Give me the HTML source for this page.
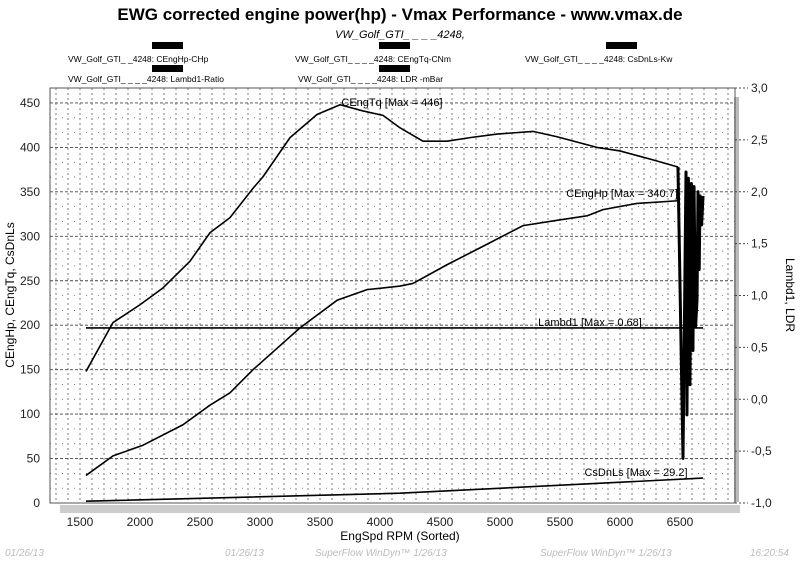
<!DOCTYPE html>
<html><head><meta charset="utf-8"><style>
body{margin:0;background:#fff;font-family:"Liberation Sans",sans-serif}
svg text{font-family:"Liberation Sans",sans-serif}
</style></head><body>
<svg id="c" width="800" height="560" xmlns="http://www.w3.org/2000/svg">
<text x="400" y="20" text-anchor="middle" font-size="17" font-weight="bold">EWG corrected engine power(hp) - Vmax Performance - www.vmax.de</text>
<text x="400" y="38" text-anchor="middle" font-size="11" font-style="italic">VW_Golf_GTI_       _  _  _4248,</text>
<g font-size="8.5">
<rect x="152" y="42" width="31" height="7" fill="#000"/>
<text x="68" y="62">VW_Golf_GTI_                  _4248: CEngHp-CHp</text>
<rect x="379" y="42" width="31" height="7" fill="#000"/>
<text x="295" y="62">VW_Golf_GTI_       _ _ _4248: CEngTq-CNm</text>
<rect x="606" y="42" width="31" height="7" fill="#000"/>
<text x="525" y="62">VW_Golf_GTI_       _ _ _4248: CsDnLs-Kw</text>
<rect x="152" y="65" width="31" height="7" fill="#000"/>
<text x="68" y="82">VW_Golf_GTI_       _ _ _4248: Lambd1-Ratio</text>
<rect x="379" y="65" width="31" height="7" fill="#000"/>
<text x="298" y="82">VW_Golf_GTI_       _ _ _4248: LDR  -mBar</text>
</g>
<rect x="60" y="505" width="680" height="8" fill="#ccc"/>
<rect x="734" y="97" width="5" height="405" fill="#bbb"/>
<g id="grid"></g>
<rect x="50" y="88" width="685" height="415" fill="none" stroke="#555" stroke-width="1"/>
<g id="ticks" font-size="12" fill="#222"></g>
<g id="series"></g>
<text x="392" y="106" text-anchor="middle" font-size="11">CEngTq [Max = 446]</text>
<text x="622" y="197" text-anchor="middle" font-size="11">CEngHp [Max = 340.7]</text>
<text x="590" y="326" text-anchor="middle" font-size="11">Lambd1 [Max = 0.68]</text>
<text x="636" y="476" text-anchor="middle" font-size="11">CsDnLs [Max = 29.2]</text>
<text x="400" y="540" text-anchor="middle" font-size="12">EngSpd RPM    (Sorted)</text>
<text transform="translate(14,295) rotate(-90)" text-anchor="middle" font-size="12">CEngHp, CEngTq, CsDnLs</text>
<text transform="translate(786,295) rotate(90)" text-anchor="middle" font-size="12">Lambd1, LDR</text>
<g font-size="10" font-style="italic" fill="#bbb">
<text x="5" y="556">01/26/13</text>
<text x="225" y="556">01/26/13</text>
<text x="315" y="556">SuperFlow WinDyn™ 1/26/13</text>
<text x="540" y="556">SuperFlow WinDyn™ 1/26/13</text>
<text x="750" y="556">16:20:54</text>
</g>
</svg>
<script>
const xTicks=[1500,2000,2500,3000,3500,4000,4500,5000,5500,6000,6500];
const leftTicks=[0,50,100,150,200,250,300,350,400,450];
const rightTicks=[-1.0,-0.5,0.0,0.5,1.0,1.5,2.0,2.5,3.0];
const rpm=[1550,1775,2000,2192,2417,2583,2750,2942,3025,3250,3475,3667,3858,4025,4167,4358,4558,4750,4975,5275,5475,5808,6000,6275,6483];
const torque=[148,203,223,242,272,304,321,354,367,411,437,448,441,436,422,407,407,411,415,418,412,400,396,386,378];
const hpRpm=[1550,1775,2025,2358,2583,2750,2942,3142,3333,3642,3892,4167,4275,4558,4833,5192,5475,5725,5858,6142,6483];
const hp=[31,53,65,88,110,124,150,174,197,228,240,244,247,268,287,312,318,323,330,337,340];
const lambdaRpm=[1550,6692];
const lambda=[0.687,0.687];
const csRpm=[1550,4167,6692];
const csdnls=[2,11,28];
const ldrRpm=[6483,6525,6550,6558,6570,6583,6595,6608,6617,6630,6642,6650,6660,6667,6680,6692];
const ldr=[2.24,-0.57,2.19,-0.15,2.13,0.14,2.08,0.47,2.05,0.7,0.96,2.0,1.25,1.96,1.68,1.96];
const X=r=>80+(r-1500)*0.12, YL=v=>503-v*0.889, YR=v=>503-(v+1)*103.75;
const NS='http://www.w3.org/2000/svg';
function mk(t,a,p){const e=document.createElementNS(NS,t);for(const k in a)e.setAttribute(k,a[k]);p.appendChild(e);return e;}
const g=document.getElementById('grid');
for(let r=1300;r<=6900;r+=100){const l=mk('line',{x1:X(r),x2:X(r),y1:88,y2:503,stroke:'#444','stroke-width':0.7,'stroke-dasharray':'2,3'},g);

}
for(let i=1;i<=28;i++){const v=i*50/3;const maj=i%3===0;const l=mk('line',{x1:50,x2:735,y1:YL(v),y2:YL(v),stroke:'#444','stroke-width':maj?0.9:0.7,'stroke-dasharray':maj?'3,2':'1,11'},g);

}
const tk=document.getElementById('ticks');
xTicks.forEach(r=>{const t=mk('text',{x:X(r),y:526,'text-anchor':'middle'},tk);t.textContent=r;

});
leftTicks.forEach(v=>{const t=mk('text',{x:40,y:YL(v)+4,'text-anchor':'end'},tk);t.textContent=v;

});
rightTicks.forEach(v=>{const l=mk('line',{x1:735,x2:748,y1:YR(v),y2:YR(v),stroke:'#444','stroke-dasharray':'2,2'},tk);


const t=mk('text',{x:751,y:YR(v)+4},tk);t.textContent=v.toFixed(1).replace('.',',');

});
const s=document.getElementById('series');
function line(xs,ys,yf,name,w){const p=mk('polyline',{points:xs.map((r,i)=>X(r)+','+yf(ys[i])).join(' '),fill:'none',stroke:'#000','stroke-width':w,'stroke-linejoin':'round'},s);

}
line(rpm,torque,YL,'torque-line',1.6);
line(hpRpm,hp,YL,'hp-line',1.6);
line(lambdaRpm,lambda,YR,'lambda-line',1.6);
line(csRpm,csdnls,YL,'csdnls-line',1.6);
line(ldrRpm,ldr,YR,'ldr-line',3);
</script>
</body></html>
